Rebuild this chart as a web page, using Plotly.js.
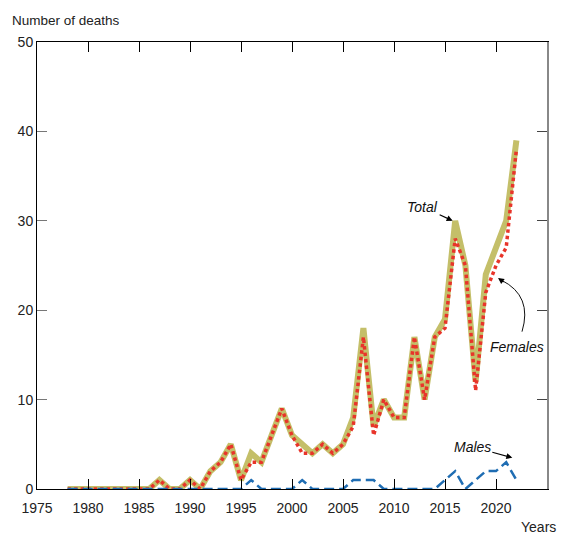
<!DOCTYPE html>
<html>
<head>
<meta charset="utf-8">
<script src="https://cdn.plot.ly/plotly-3.0.1.min.js"></script>
<style>
html,body{margin:0;padding:0;background:#fff;}
#chart{width:561px;height:539px;}
</style>
</head>
<body>
<div id="chart"></div>
<script>
const years = [1978,1979,1980,1981,1982,1983,1984,1985,1986,1987,1988,1989,1990,1991,1992,1993,1994,1995,1996,1997,1998,1999,2000,2001,2002,2003,2004,2005,2006,2007,2008,2009,2010,2011,2012,2013,2014,2015,2016,2017,2018,2019,2020,2021,2022];
const total   = [0,0,0,0,0,0,0,0,0,1,0,0,1,0,2,3,5,1,4,3,6,9,6,5,4,5,4,5,8,18,7,10,8,8,17,10,17,19,30,25,12,24,27,30,39];
const females = [0,0,0,0,0,0,0,0,0,1,0,0,1,0,2,3,5,1,3,3,6,9,6,4,4,5,4,5,7,17,6,10,8,8,17,10,17,18,28,25,11,22,25,27,38];
const males   = [0,0,0,0,0,0,0,0,0,0,0,0,0,0,0,0,0,0,1,0,0,0,0,1,0,0,0,0,1,1,1,0,0,0,0,0,0,1,2,0,1,2,2,3,1];
const xTicks = [1975,1980,1985,1990,1995,2000,2005,2010,2015,2020,2025];
const yTicks = [0,10,20,30,40,50];

const FONT = '"Liberation Sans", Arial, sans-serif';
const FS = 14;

const traces = [
  {x: years, y: total, name: 'Total', mode: 'lines', line: {color: '#c4bf69', width: 6}},
  {x: years, y: females, name: 'Females', mode: 'lines', line: {color: '#e8342a', width: 3.5, dash: '3.5px,3px'}},
  {x: years, y: males, name: 'Males', mode: 'lines', line: {color: '#1f6db3', width: 2.5, dash: '10px,5px'}}
];

const layout = {
  width: 561, height: 539,
  margin: {l: 37, r: 14, t: 42, b: 50},
  paper_bgcolor: '#fff', plot_bgcolor: '#fff',
  showlegend: false,
  font: {family: FONT, size: FS, color: '#222'},
  title: {text: 'Number of deaths', xref: 'container', yref: 'container', x: 12/561, xanchor: 'left', y: 1 - 20/539, yanchor: 'middle', font: {family: FONT, size: 13.5, color: '#222'}},
  xaxis: {range: [1975, 2025], tickvals: xTicks, ticktext: xTicks.map(String), ticks: 'inside', ticklen: 10, tickcolor: '#000', tickwidth: 1,
          ticklabelstandoff: 6,
          showline: true, linecolor: '#000', linewidth: 1, mirror: 'ticks', showgrid: false, zeroline: false, fixedrange: true,
          tickfont: {family: FONT, size: FS, color: '#222'}},
  yaxis: {range: [0, 50], tickvals: yTicks, ticktext: yTicks.map(String), ticks: 'inside', ticklen: 10, tickcolor: '#777', tickwidth: 1,
          showline: true, linecolor: '#000', linewidth: 1, showgrid: false, zeroline: false, fixedrange: true,
          tickfont: {family: FONT, size: FS, color: '#222'}},
  yaxis2: {range: [0, 50], overlaying: 'y', side: 'right', tickvals: yTicks, ticks: 'inside', ticklen: 10, tickcolor: '#444',
           showticklabels: false, showline: true, linecolor: '#888', linewidth: 2, showgrid: false, zeroline: false, fixedrange: true},
  shapes: [
    {type: 'path', xref: 'x', yref: 'y', path: 'M 2022.55,17.6 Q 2023.6,21.6 2020.55,23.35', line: {color: '#111', width: 1}}
  ],
  annotations: [
    {x: 2015.75, y: 30.0, xref: 'x', yref: 'y', text: '<i>Total</i>', showarrow: true, arrowhead: 2, arrowsize: 1, arrowwidth: 1.2, arrowcolor: '#000',
     ax: -30, ay: -14, standoff: 0, font: {family: FONT, size: FS, color: '#111'}},
    {x: 2020.2, y: 23.6, xref: 'x', yref: 'y', text: '', showarrow: true, arrowhead: 2, arrowsize: 1, arrowwidth: 1.2, arrowcolor: '#000',
     ax: 7, ay: 5, standoff: 0},
    {x: 2022.1, y: 15.9, xref: 'x', yref: 'y', text: '<i>Females</i>', showarrow: false, font: {family: FONT, size: FS, color: '#111'}},
    {x: 2021.6, y: 3.5, xref: 'x', yref: 'y', text: '<i>Males</i>', showarrow: true, arrowhead: 2, arrowsize: 1, arrowwidth: 1.2, arrowcolor: '#000',
     ax: -40, ay: -11, standoff: 0, font: {family: FONT, size: FS, color: '#111'}},
    {x: 1, y: 0, xref: 'paper', yref: 'paper', text: 'Years', showarrow: false, xanchor: 'right', yanchor: 'middle', xshift: 11, yshift: -38,
     font: {family: FONT, size: FS, color: '#222'}}
  ]
};

traces.push({x: [2025], y: [0], yaxis: 'y2', mode: 'markers', marker: {opacity: 0}, hoverinfo: 'skip', showlegend: false});

Plotly.newPlot('chart', traces, layout, {staticPlot: true, displayModeBar: false});
</script>
</body>
</html>
